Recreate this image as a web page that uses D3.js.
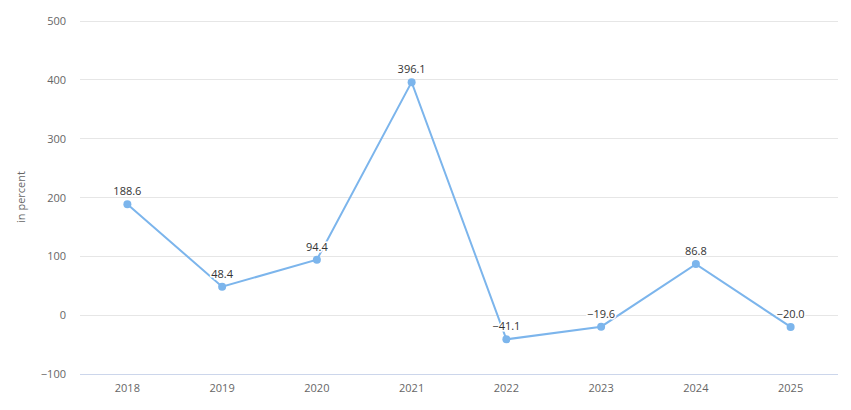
<!DOCTYPE html>
<html><head><meta charset="utf-8">
<script src="https://cdn.jsdelivr.net/npm/d3@7"></script>
<style>body{margin:0;background:#fff;font-family:"Open Sans",Lato,sans-serif}</style>
</head><body><svg id="c" width="851" height="410"></svg>
<script>
const categories=["2018","2019","2020","2021","2022","2023","2024","2025"];
const values=[188.6,48.4,94.4,396.1,-41.1,-19.6,86.8,-20.0];
const yTicks=[-100,0,100,200,300,400,500];
const svg=d3.select("#c");
const x=d3.scaleBand().domain(categories).range([80,838]);
const y=d3.scaleLinear().domain([-100,500]).range([374,21]);
const g=svg.append("g");
yTicks.forEach(t=>{
  g.append("line").attr("x1",80).attr("x2",838).attr("y1",y(t)).attr("y2",y(t))
   .attr("stroke",t===-100?"#ccd6eb":"#e6e6e6").attr("stroke-width",1).attr("shape-rendering","crispEdges");
  g.append("text").attr("x",66).attr("y",y(t)+4).attr("text-anchor","end")
   .attr("font-size",11).attr("fill","#666").text(t===-100?"−100":t);
});
categories.forEach(c=>{
  g.append("text").attr("x",x(c)+x.bandwidth()/2).attr("y",392).attr("text-anchor","middle")
   .attr("font-size",11).attr("fill","#666").text(c);
});
svg.append("text").attr("transform","translate(25,197) rotate(-90)").attr("text-anchor","middle")
 .attr("font-size",11).attr("fill","#666").text("in percent");
const cx=(d,i)=>x(categories[i])+x.bandwidth()/2;
svg.append("path").datum(values).attr("fill","none").attr("stroke","#7cb5ec").attr("stroke-width",2)
 .attr("d",d3.line().x(cx).y(d=>y(d)));
svg.selectAll("circle").data(values).join("circle").attr("cx",cx).attr("cy",d=>y(d)).attr("r",4).attr("fill","#7cb5ec");
svg.selectAll("text.lbl").data(values).join("text").attr("class","lbl")
 .attr("x",cx).attr("y",d=>y(d)-9).attr("text-anchor","middle").attr("font-size",11)
 .attr("fill","#333").attr("stroke","#fff").attr("stroke-width",3).attr("paint-order","stroke")
 .text(d=>(d<0?"−":"")+Math.abs(d).toFixed(1));
</script></body></html>
